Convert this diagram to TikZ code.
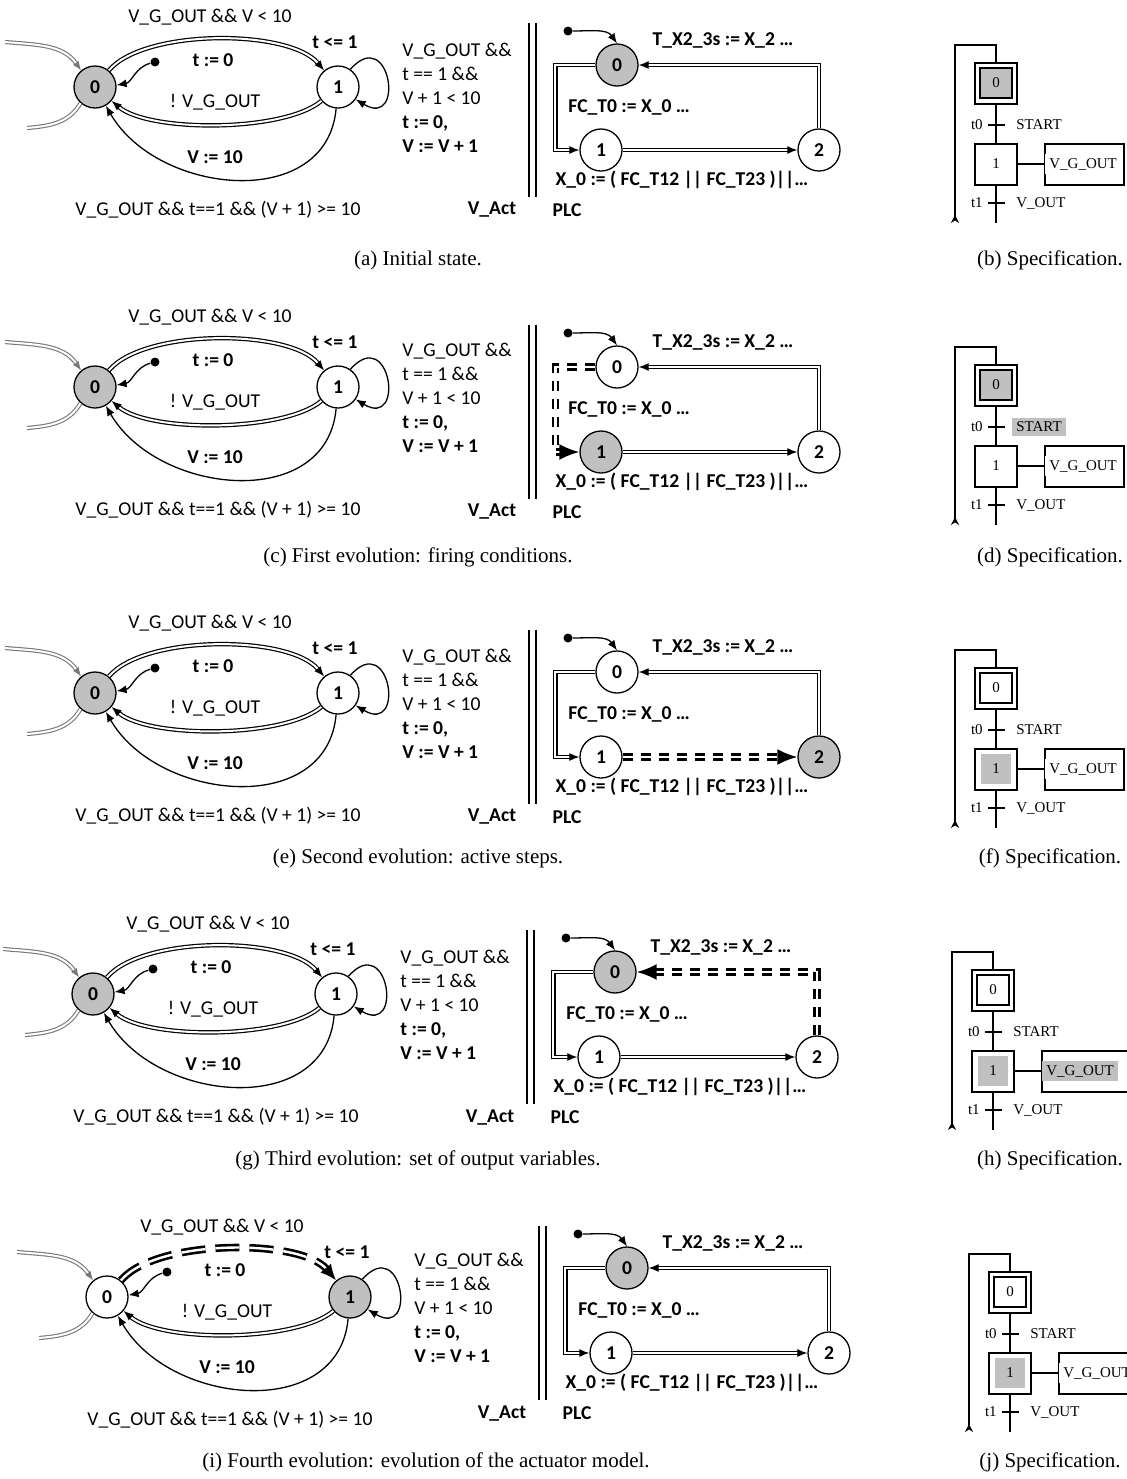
\documentclass[tikz,border=0pt]{standalone}
\usepackage{fontspec}
\setmainfont{Liberation Serif}
\newfontfamily\uppfont{Carlito}
\usetikzlibrary{arrows.meta,positioning,calc}
\definecolor{actgray}{RGB}{192,192,192}
\definecolor{feedgray}{RGB}{120,120,120}

\newcommand{\lblfont}{\uppfont\fontsize{9.8pt}{12pt}\selectfont}

\tikzset{
  loc/.style={circle, draw, line width=0.65pt, minimum size=21pt, inner sep=0pt, font=\lblfont\bfseries},
  initdot/.style={circle, fill=black, inner sep=0pt, minimum size=4.5pt},
  lbl/.style={font=\lblfont, inner sep=0pt},
  lblb/.style={font=\lblfont\bfseries, inner sep=0pt},
  arr/.style={draw, line width=0.65pt, -{Latex[length=5pt,width=4pt]}},
  dblarrow/.style={draw, line width=0.6pt, double, double distance=1pt, -{Latex[length=5pt,width=4pt]}},
  hot/.style={draw, line width=1.2pt, double, double distance=1.2pt, dash pattern=on 5pt off 4pt, -{Latex[length=10pt,width=8pt]}},
  hotarc/.style={draw, line width=1.3pt, double, double distance=1.2pt, dash pattern=on 12pt off 5pt, -{Latex[length=8pt,width=7pt]}},
  feed/.style={draw=feedgray, line width=0.55pt, double=white, double distance=1pt},
  gline/.style={line width=1pt},
  stepbox/.style={rectangle, draw, line width=1pt, minimum width=21pt, minimum height=20.5pt, inner sep=0pt},
  stepin/.style={rectangle, draw, line width=0.8pt, minimum width=16pt, minimum height=15pt, inner sep=0pt, font=\fontsize{7.5pt}{9pt}\selectfont},
  stepmark/.style={rectangle, minimum width=15pt, minimum height=15pt, inner sep=0pt, font=\fontsize{7.5pt}{9pt}\selectfont},
  trbar/.style={rectangle, fill=black, inner sep=0pt, minimum width=8.5pt, minimum height=1pt},
  actbox/.style={rectangle, draw, line width=1pt, minimum height=20.5pt, inner sep=0pt, anchor=west},
  gtext/.style={font=\fontsize{7.5pt}{9pt}\selectfont, inner sep=2pt},
  captext/.style={font=\fontsize{10.5pt}{12pt}\selectfont, inner sep=0pt}
}

% actuator automaton: #1 shift, #2 fill of location 0, #3 fill of location 1, #4 style of the guard edge
\newcommand{\actpanel}[4]{%
  \begin{scope}[shift={(#1)}]
    % locations
    \node[loc, fill=#2] (s0) at (95,-87) {0};
    \node[loc, fill=#3] (s1) at (338,-87) {1};
    \node[initdot] (sinit) at (155,-62) {};
    \coordinate (inA) at (5,-42);
    \coordinate (inB) at (27,-128);
    % labels
    \node[lbl] (lguard) at (210,-17) {V\_G\_OUT \&\& V < 10};
    \node[lblb] (linv) at (335,-42) {t <= 1};
    \node[lblb] (lreset) at (213,-60) {t := 0};
    \node[lbl] (lnot) at (215,-102) {! V\_G\_OUT};
    \node[lblb] (lmax) at (215,-157) {V := 10};
    \node[lbl] (lover) at (218,-210) {V\_G\_OUT \&\& t==1 \&\& (V + 1) >= 10};
    \node[lbl, align=left, anchor=north west] (lself) at (402,-43)
      {V\_G\_OUT \&\&\\t == 1 \&\&\\V + 1 < 10\\\textbf{t := 0,}\\\textbf{V := V + 1}};
    % edges
    \draw[feed, -{Latex[length=4.5pt,width=3.5pt]}] (inA) to[out=-5, in=125] (s0.130);
    \draw[feed] (inB) to[out=5, in=-120] (s0.228);
    \draw[#4] (s0) to[bend left=50, looseness=0.65] (s1);
    \draw[dblarrow] (s1) to[bend left=40, looseness=0.6] (s0);
    \draw[arr] (s1) to[out=-95, in=-60, looseness=1.15] (s0);
    \draw[arr] (s1.55) .. controls +(40,45) and +(50,-30) .. (s1.-35);
    \draw[arr] (sinit) to[out=195, in=10] (s0.5);
  \end{scope}}

% controller automaton: #1 shift, #2-#4 fills of locations 0, 1, 2, #5-#7 styles of the edges 0-1, 1-2, 2-0
\newcommand{\plcpanel}[7]{%
  \begin{scope}[shift={(#1)}]
    \node[loc, fill=#2] (p0) at (617,-65) {0};
    \node[loc, fill=#3] (p1) at (601,-150) {1};
    \node[loc, fill=#4] (p2) at (819,-150) {2};
    \node[initdot] (pinit) at (568,-31) {};
    \node[lblb] (ltimer) at (723,-40) {T\_X2\_3s := X\_2 …};
    \node[lblb, anchor=west] (lfire) at (568,-107) {FC\_T0 := X\_0 …};
    \node[lblb] (lstep) at (682,-180) {X\_0 := ( FC\_T12 || FC\_T23 )||…};
    \node[lblb] (lact) at (492,-210) {V\_Act};
    \node[lblb] (lplc) at (567,-210) {PLC};
    % separator
    \draw[line width=0.6pt] (529,-23) -- (529,-197);
    \draw[line width=0.6pt] (536,-23) -- (536,-197);
    % edges
    \draw[arr] (pinit) to[out=0, in=125] (p0.north);
    \draw[#5] (p0.west) -- ++(-40,0) |- (p1.west);
    \draw[#6] (p1) -- (p2);
    \draw[#7] (p2.north) |- (p0.east);
  \end{scope}}

% grafcet: #1 shift, #2 step 0 fill, #3 step 1 fill, #4 START fill, #5 V_G_OUT fill, #6 action box width
\newcommand{\grafpanel}[6]{%
  \begin{scope}[shift={(#1)}]
    \node[stepbox] (g0) at (41,-38) {};
    \node[stepin, fill=#2] (g0in) at (g0) {0};
    \node[stepbox] (g1) at (41,-119) {};
    \node[stepmark, fill=#3] (g1in) at (g1) {1};
    \node[trbar] (tr0) at (41,-80) {};
    \node[trbar] (tr1) at (41,-158) {};
    \node[actbox, minimum width=#6] (ga) at (89,-119) {};
    \coordinate (gtop) at (0,0);
    \coordinate (gret) at (0,-178);
    \coordinate (gend) at (41,-178);
    % texts
    \node[gtext, anchor=east] (gt0) at (tr0.west) {t0};
    \node[gtext, anchor=west, fill=#4] (gstart) at ([xshift=3.5pt]tr0.east) {START};
    \node[gtext, anchor=east] (gt1) at (tr1.west) {t1};
    \node[gtext, anchor=west] (gvout) at ([xshift=3.5pt]tr1.east) {V\_OUT};
    \node[gtext, anchor=west, fill=#5] (gvgout) at ([xshift=0.5pt]ga.west) {V\_G\_OUT};
    % links
    \draw[gline] (g0) -- (g1);
    \draw[gline] (g1) -- (gend);
    \draw[gline] (g1) -- (ga);
    \draw[gline, {Stealth[reversed, length=4pt, width=4pt]}-] (gret) -- (gtop) -| (g0.north);
  \end{scope}}

\begin{document}
\begin{tikzpicture}[x=0.5pt, y=0.5pt]
  \useasboundingbox (0,0) rectangle (1126,-1479);
  \fill[white] (0,0) rectangle (1126,-1479);

  % (a) and (b)
  \actpanel{0,0}{actgray}{white}{dblarrow}
  \plcpanel{0,0}{actgray}{white}{white}{dblarrow}{dblarrow}{dblarrow}
  \grafpanel{955,-45}{actgray}{white}{white}{white}{39.5pt}
  \node[captext] (capa) at (418,-260) {(a) Initial state.};
  \node[captext] (capb) at (1050,-260) {(b) Specification.};

  % (c) and (d)
  \actpanel{0,-300}{actgray}{white}{dblarrow}
  \plcpanel{0,-302}{white}{actgray}{white}{hot}{dblarrow}{dblarrow}
  \grafpanel{955,-347}{actgray}{white}{actgray}{white}{39.5pt}
  \node[captext] (capc) at (418,-557) {(c) First evolution: firing conditions.};
  \node[captext] (capd) at (1050,-557) {(d) Specification.};

  % (e) and (f)
  \actpanel{0,-606}{actgray}{white}{dblarrow}
  \plcpanel{0,-607}{white}{white}{actgray}{dblarrow}{hot}{dblarrow}
  \grafpanel{955,-650}{white}{actgray}{white}{white}{39.5pt}
  \node[captext] (cape) at (418,-858) {(e) Second evolution: active steps.};
  \node[captext] (capf) at (1050,-858) {(f) Specification.};

  % (g) and (h)
  \actpanel{-2,-907}{actgray}{white}{dblarrow}
  \plcpanel{-2,-907}{actgray}{white}{white}{dblarrow}{dblarrow}{hot}
  \grafpanel{952,-952}{white}{actgray}{white}{actgray}{45pt}
  \node[captext] (capg) at (418,-1160) {(g) Third evolution: set of output variables.};
  \node[captext] (caph) at (1050,-1160) {(h) Specification.};

  % (i) and (j)
  \actpanel{12,-1210}{white}{actgray}{hotarc}
  \plcpanel{10,-1203}{actgray}{white}{white}{dblarrow}{dblarrow}{dblarrow}
  \grafpanel{969,-1254}{white}{actgray}{white}{white}{45pt}
  \node[captext] (capi) at (426,-1462) {(i) Fourth evolution: evolution of the actuator model.};
  \node[captext] (capj) at (1050,-1462) {(j) Specification.};
\end{tikzpicture}
\end{document}
